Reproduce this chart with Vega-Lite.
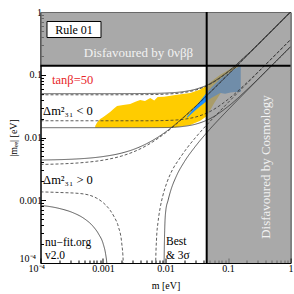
{
  "$schema": "https://vega.github.io/schema/vega-lite/v6.json",
  "width": 250,
  "height": 251,
  "autosize": "none",
  "padding": {"left": 40.5, "top": 12, "right": 3.5, "bottom": 31},
  "background": "#ffffff",
  "data": {"values": [{}]},
  "config": {
    "view": {"stroke": "#000", "strokeWidth": 1},
    "font": "Liberation Serif",
    "axis": {"labelFont": "Liberation Serif", "labelFontSize": 10, "labelColor": "#000", "titleFont": "Liberation Serif", "titleFontSize": 10, "titleFontWeight": "normal", "titleColor": "#000", "domainColor": "#000", "tickColor": "#000", "grid": false, "labelFlush": false, "labelOverlap": false}
  },
  "datasets": {
    "curves": [
      {"c": "IOub", "f": "best", "m": 0.0001, "mee": 0.0479}, {"c": "IOub", "f": "best", "m": 0.001, "mee": 0.0479}, {"c": "IOub", "f": "best", "m": 0.005, "mee": 0.04825}, {"c": "IOub", "f": "best", "m": 0.01, "mee": 0.0491}, {"c": "IOub", "f": "best", "m": 0.02, "mee": 0.05217}, {"c": "IOub", "f": "best", "m": 0.03, "mee": 0.05681}, {"c": "IOub", "f": "best", "m": 0.05, "mee": 0.06954}, {"c": "IOub", "f": "best", "m": 0.1, "mee": 0.11107}, {"c": "IOub", "f": "best", "m": 0.2, "mee": 0.20573}, {"c": "IOub", "f": "best", "m": 0.5, "mee": 0.5023}, {"c": "IOub", "f": "best", "m": 1, "mee": 1.0012},
      {"c": "IOu3", "f": "3s", "m": 0.0001, "mee": 0.04997}, {"c": "IOu3", "f": "3s", "m": 0.001, "mee": 0.04998}, {"c": "IOu3", "f": "3s", "m": 0.005, "mee": 0.0503}, {"c": "IOu3", "f": "3s", "m": 0.01, "mee": 0.05112}, {"c": "IOu3", "f": "3s", "m": 0.02, "mee": 0.05408}, {"c": "IOu3", "f": "3s", "m": 0.03, "mee": 0.05858}, {"c": "IOu3", "f": "3s", "m": 0.05, "mee": 0.07098}, {"c": "IOu3", "f": "3s", "m": 0.1, "mee": 0.112}, {"c": "IOu3", "f": "3s", "m": 0.2, "mee": 0.20627}, {"c": "IOu3", "f": "3s", "m": 0.5, "mee": 0.5025}, {"c": "IOu3", "f": "3s", "m": 1, "mee": 1.001},
      {"c": "IOlb", "f": "best", "m": 0.0001, "mee": 0.01849}, {"c": "IOlb", "f": "best", "m": 0.001, "mee": 0.01847}, {"c": "IOlb", "f": "best", "m": 0.005, "mee": 0.01847}, {"c": "IOlb", "f": "best", "m": 0.01, "mee": 0.01866}, {"c": "IOlb", "f": "best", "m": 0.02, "mee": 0.01957}, {"c": "IOlb", "f": "best", "m": 0.03, "mee": 0.02113}, {"c": "IOlb", "f": "best", "m": 0.05, "mee": 0.02556}, {"c": "IOlb", "f": "best", "m": 0.1, "mee": 0.04043}, {"c": "IOlb", "f": "best", "m": 0.2, "mee": 0.07463}, {"c": "IOlb", "f": "best", "m": 0.5, "mee": 0.182}, {"c": "IOlb", "f": "best", "m": 1, "mee": 0.362},
      {"c": "IOl3", "f": "3s", "m": 0.0001, "mee": 0.01434}, {"c": "IOl3", "f": "3s", "m": 0.001, "mee": 0.01434}, {"c": "IOl3", "f": "3s", "m": 0.005, "mee": 0.01436}, {"c": "IOl3", "f": "3s", "m": 0.01, "mee": 0.01441}, {"c": "IOl3", "f": "3s", "m": 0.02, "mee": 0.01508}, {"c": "IOl3", "f": "3s", "m": 0.03, "mee": 0.01626}, {"c": "IOl3", "f": "3s", "m": 0.05, "mee": 0.01965}, {"c": "IOl3", "f": "3s", "m": 0.1, "mee": 0.03114}, {"c": "IOl3", "f": "3s", "m": 0.2, "mee": 0.05755}, {"c": "IOl3", "f": "3s", "m": 0.5, "mee": 0.1404}, {"c": "IOl3", "f": "3s", "m": 1, "mee": 0.2794},
      {"c": "NOub", "f": "best", "m": 0.0001, "mee": 0.00372}, {"c": "NOub", "f": "best", "m": 0.0002, "mee": 0.00379}, {"c": "NOub", "f": "best", "m": 0.0005, "mee": 0.004}, {"c": "NOub", "f": "best", "m": 0.001, "mee": 0.00435}, {"c": "NOub", "f": "best", "m": 0.002, "mee": 0.00508}, {"c": "NOub", "f": "best", "m": 0.003, "mee": 0.00584}, {"c": "NOub", "f": "best", "m": 0.005, "mee": 0.00746}, {"c": "NOub", "f": "best", "m": 0.01, "mee": 0.01183}, {"c": "NOub", "f": "best", "m": 0.02, "mee": 0.02126}, {"c": "NOub", "f": "best", "m": 0.03, "mee": 0.03096}, {"c": "NOub", "f": "best", "m": 0.05, "mee": 0.0507}, {"c": "NOub", "f": "best", "m": 0.1, "mee": 0.1003}, {"c": "NOub", "f": "best", "m": 0.2, "mee": 0.2001}, {"c": "NOub", "f": "best", "m": 0.5, "mee": 0.5}, {"c": "NOub", "f": "best", "m": 1, "mee": 1},
      {"c": "NOu3", "f": "3s", "m": 0.0001, "mee": 0.00437}, {"c": "NOu3", "f": "3s", "m": 0.0005, "mee": 0.00463}, {"c": "NOu3", "f": "3s", "m": 0.001, "mee": 0.00497}, {"c": "NOu3", "f": "3s", "m": 0.002, "mee": 0.00566}, {"c": "NOu3", "f": "3s", "m": 0.003, "mee": 0.0064}, {"c": "NOu3", "f": "3s", "m": 0.005, "mee": 0.00798}, {"c": "NOu3", "f": "3s", "m": 0.01, "mee": 0.01222}, {"c": "NOu3", "f": "3s", "m": 0.02, "mee": 0.02155}, {"c": "NOu3", "f": "3s", "m": 0.03, "mee": 0.0312}, {"c": "NOu3", "f": "3s", "m": 0.05, "mee": 0.0508}, {"c": "NOu3", "f": "3s", "m": 0.1, "mee": 0.1005}, {"c": "NOu3", "f": "3s", "m": 0.2, "mee": 0.2003}, {"c": "NOu3", "f": "3s", "m": 0.5, "mee": 0.5001}, {"c": "NOu3", "f": "3s", "m": 1, "mee": 1.0001},
      {"c": "NOlbL", "f": "best", "m": 0.0001, "mee": 0.00136}, {"c": "NOlbL", "f": "best", "m": 0.0002, "mee": 0.00133}, {"c": "NOlbL", "f": "best", "m": 0.00043, "mee": 0.00128}, {"c": "NOlbL", "f": "best", "m": 0.00079, "mee": 0.00108}, {"c": "NOlbL", "f": "best", "m": 0.001, "mee": 0.00092}, {"c": "NOlbL", "f": "best", "m": 0.00129, "mee": 0.0007}, {"c": "NOlbL", "f": "best", "m": 0.0015, "mee": 0.00055}, {"c": "NOlbL", "f": "best", "m": 0.00176, "mee": 0.00038}, {"c": "NOlbL", "f": "best", "m": 0.00199, "mee": 0.00021}, {"c": "NOlbL", "f": "best", "m": 0.00211, "mee": 0.0001}, {"c": "NOlbL", "f": "best", "m": 0.00216, "mee": 0.00004}, {"c": "NOlbL", "f": "best", "m": 0.00218, "mee": 0.00001},
      {"c": "NOlbR", "f": "best", "m": 0.0069, "mee": 0.00001}, {"c": "NOlbR", "f": "best", "m": 0.00697, "mee": 0.0001}, {"c": "NOlbR", "f": "best", "m": 0.0072, "mee": 0.00025}, {"c": "NOlbR", "f": "best", "m": 0.0076, "mee": 0.00045}, {"c": "NOlbR", "f": "best", "m": 0.0082, "mee": 0.00075}, {"c": "NOlbR", "f": "best", "m": 0.009, "mee": 0.00115}, {"c": "NOlbR", "f": "best", "m": 0.0105, "mee": 0.0019}, {"c": "NOlbR", "f": "best", "m": 0.013, "mee": 0.0031}, {"c": "NOlbR", "f": "best", "m": 0.0165, "mee": 0.0045}, {"c": "NOlbR", "f": "best", "m": 0.0221, "mee": 0.0068}, {"c": "NOlbR", "f": "best", "m": 0.03, "mee": 0.0099}, {"c": "NOlbR", "f": "best", "m": 0.046, "mee": 0.016}, {"c": "NOlbR", "f": "best", "m": 0.07, "mee": 0.0248}, {"c": "NOlbR", "f": "best", "m": 0.1, "mee": 0.0359}, {"c": "NOlbR", "f": "best", "m": 0.2, "mee": 0.0723}, {"c": "NOlbR", "f": "best", "m": 0.5, "mee": 0.181}, {"c": "NOlbR", "f": "best", "m": 1, "mee": 0.362},
      {"c": "NOl3L", "f": "3s", "m": 0.0001, "mee": 0.00083}, {"c": "NOl3L", "f": "3s", "m": 0.0002, "mee": 0.00074}, {"c": "NOl3L", "f": "3s", "m": 0.000335, "mee": 0.00063}, {"c": "NOl3L", "f": "3s", "m": 0.0005, "mee": 0.00051}, {"c": "NOl3L", "f": "3s", "m": 0.0007, "mee": 0.00038}, {"c": "NOl3L", "f": "3s", "m": 0.00085, "mee": 0.00029}, {"c": "NOl3L", "f": "3s", "m": 0.00101, "mee": 0.0002}, {"c": "NOl3L", "f": "3s", "m": 0.0011, "mee": 0.00014}, {"c": "NOl3L", "f": "3s", "m": 0.00115, "mee": 0.0001}, {"c": "NOl3L", "f": "3s", "m": 0.0012, "mee": 0.00005}, {"c": "NOl3L", "f": "3s", "m": 0.00122, "mee": 0.00001},
      {"c": "NOl3R", "f": "3s", "m": 0.0093, "mee": 0.00001}, {"c": "NOl3R", "f": "3s", "m": 0.0095, "mee": 0.0001}, {"c": "NOl3R", "f": "3s", "m": 0.0097, "mee": 0.00033}, {"c": "NOl3R", "f": "3s", "m": 0.0101, "mee": 0.00068}, {"c": "NOl3R", "f": "3s", "m": 0.011, "mee": 0.001}, {"c": "NOl3R", "f": "3s", "m": 0.012, "mee": 0.00138}, {"c": "NOl3R", "f": "3s", "m": 0.015, "mee": 0.00245}, {"c": "NOl3R", "f": "3s", "m": 0.02, "mee": 0.0041}, {"c": "NOl3R", "f": "3s", "m": 0.03, "mee": 0.0072}, {"c": "NOl3R", "f": "3s", "m": 0.046, "mee": 0.012}, {"c": "NOl3R", "f": "3s", "m": 0.07, "mee": 0.019}, {"c": "NOl3R", "f": "3s", "m": 0.1, "mee": 0.0275}, {"c": "NOl3R", "f": "3s", "m": 0.2, "mee": 0.0557}, {"c": "NOl3R", "f": "3s", "m": 0.5, "mee": 0.14}, {"c": "NOl3R", "f": "3s", "m": 1, "mee": 0.279}
    ],
    "yellow": [
      {"m": 0.00075, "lo": 0.0144, "hi": 0.0152}, {"m": 0.0008, "lo": 0.0144, "hi": 0.0172}, {"m": 0.0009, "lo": 0.0144, "hi": 0.0197}, {"m": 0.001, "lo": 0.0144, "hi": 0.021}, {"m": 0.00112, "lo": 0.0144, "hi": 0.0228}, {"m": 0.0013, "lo": 0.0144, "hi": 0.0254}, {"m": 0.0015, "lo": 0.0144, "hi": 0.029}, {"m": 0.00168, "lo": 0.0144, "hi": 0.0317}, {"m": 0.0021, "lo": 0.0144, "hi": 0.033}, {"m": 0.00272, "lo": 0.0144, "hi": 0.0341}, {"m": 0.0033, "lo": 0.0144, "hi": 0.037}, {"m": 0.00393, "lo": 0.0144, "hi": 0.0395}, {"m": 0.0047, "lo": 0.0144, "hi": 0.038}, {"m": 0.0057, "lo": 0.0144, "hi": 0.0425}, {"m": 0.0066, "lo": 0.0144, "hi": 0.039}, {"m": 0.0075, "lo": 0.0144, "hi": 0.044}, {"m": 0.0095, "lo": 0.0144, "hi": 0.0445}, {"m": 0.0143, "lo": 0.0145, "hi": 0.0475}, {"m": 0.0249, "lo": 0.0158, "hi": 0.051}, {"m": 0.036, "lo": 0.0185, "hi": 0.058}, {"m": 0.046, "lo": 0.022, "hi": 0.068}, {"m": 0.06, "lo": 0.035, "hi": 0.085}, {"m": 0.0753, "lo": 0.05, "hi": 0.1}, {"m": 0.1, "lo": 0.07, "hi": 0.118}, {"m": 0.125, "lo": 0.1, "hi": 0.133}, {"m": 0.146, "lo": 0.13, "hi": 0.141}
    ],
    "blue": [
      {"m": 0.022, "lo": 0.0205, "hi": 0.0215}, {"m": 0.028, "lo": 0.0255, "hi": 0.0285}, {"m": 0.035, "lo": 0.031, "hi": 0.037}, {"m": 0.046, "lo": 0.038, "hi": 0.052}, {"m": 0.055, "lo": 0.043, "hi": 0.064}, {"m": 0.0753, "lo": 0.051, "hi": 0.086}, {"m": 0.09, "lo": 0.05, "hi": 0.098}, {"m": 0.11, "lo": 0.052, "hi": 0.112}, {"m": 0.13, "lo": 0.053, "hi": 0.126}, {"m": 0.16, "lo": 0.053, "hi": 0.139}
    ]
  },
  "layer": [
    {
      "data": {"name": "yellow"},
      "mark": {"type": "area", "color": "#FFCC00", "clip": true},
      "encoding": {
        "x": {"field": "m", "type": "quantitative", "scale": {"type": "log", "domain": [0.0001, 1]},
          "axis": {"title": "m [eV]", "values": [0.0001,0.0002,0.0003,0.0004,0.0005,0.0006,0.0007,0.0008,0.0009,0.001,0.002,0.003,0.004,0.005,0.006,0.007,0.008,0.009,0.01,0.02,0.03,0.04,0.05,0.06,0.07,0.08,0.09,0.1,0.2,0.3,0.4,0.5,0.6,0.7,0.8,0.9,1],
            "labelExpr": "abs(log(datum.value)/LN10 - round(log(datum.value)/LN10)) > 0.001 ? '' : datum.value < 0.0005 ? '10⁻⁴' : datum.value < 0.005 ? '0.001' : datum.value < 0.05 ? '0.01' : datum.value < 0.5 ? '0.1' : '1'",
            "tickSize": {"condition": {"test": "abs(log(datum.value)/LN10 - round(log(datum.value)/LN10)) < 0.001", "value": -5}, "value": -3},
            "labelAlign": {"condition": {"test": "datum.value < 0.0002", "value": "right"}, "value": "center"},
            "labelOffset": {"condition": {"test": "datum.value < 0.0002", "value": 4}, "value": 0},
            "labelPadding": 5, "titlePadding": 5}},
        "y": {"field": "lo", "type": "quantitative", "scale": {"type": "log", "domain": [0.0001, 1]},
          "axis": {"title": "|mₑₑ| [eV]", "values": [0.0001,0.0002,0.0003,0.0004,0.0005,0.0006,0.0007,0.0008,0.0009,0.001,0.002,0.003,0.004,0.005,0.006,0.007,0.008,0.009,0.01,0.02,0.03,0.04,0.05,0.06,0.07,0.08,0.09,0.1,0.2,0.3,0.4,0.5,0.6,0.7,0.8,0.9,1],
            "labelExpr": "abs(log(datum.value)/LN10 - round(log(datum.value)/LN10)) > 0.001 ? '' : datum.value < 0.0005 ? '10⁻⁴' : datum.value < 0.005 ? '0.001' : datum.value < 0.05 ? '0.01' : datum.value < 0.5 ? '0.1' : '1'",
            "tickSize": {"condition": {"test": "abs(log(datum.value)/LN10 - round(log(datum.value)/LN10)) < 0.001", "value": -5}, "value": -3},
            "labelBaseline": {"condition": {"test": "datum.value < 0.0002", "value": "bottom"}, "value": "middle"},
            "labelPadding": {"condition": {"test": "datum.value < 0.0002", "value": 10}, "value": 4},
            "titleX": -27, "titleY": 125.5, "titleAlign": "center", "titleBaseline": "middle"}},
        "y2": {"field": "hi"}
      }
    },
    {
      "data": {"name": "blue"},
      "mark": {"type": "area", "color": "#1E90FF", "clip": true},
      "encoding": {
        "x": {"field": "m", "type": "quantitative"},
        "y": {"field": "lo", "type": "quantitative"},
        "y2": {"field": "hi"}
      }
    },
    {
      "mark": {"type": "rect", "color": "#8c8c8c", "opacity": 0.75},
      "encoding": {
        "x": {"datum": 0.0001, "type": "quantitative"}, "x2": {"datum": 0.0456},
        "y": {"datum": 0.1394, "type": "quantitative"}, "y2": {"datum": 1}
      }
    },
    {
      "mark": {"type": "rect", "color": "#8c8c8c", "opacity": 0.75},
      "encoding": {
        "x": {"datum": 0.0456, "type": "quantitative"}, "x2": {"datum": 1},
        "y": {"datum": 0.0001, "type": "quantitative"}, "y2": {"datum": 1}
      }
    },
    {
      "data": {"name": "curves"},
      "mark": {"type": "line", "clip": true, "strokeWidth": 0.8, "color": "#333", "interpolate": "monotone"},
      "encoding": {
        "x": {"field": "m", "type": "quantitative"},
        "y": {"field": "mee", "type": "quantitative"},
        "detail": {"field": "c"},
        "strokeDash": {"field": "f", "type": "nominal", "scale": {"domain": ["best", "3s"], "range": [[3, 2], [1, 0]]}, "legend": null}
      }
    },
    {
      "mark": {"type": "rule", "color": "#000", "strokeWidth": 2},
      "encoding": {"x": {"datum": 0.0456, "type": "quantitative"}}
    },
    {
      "mark": {"type": "rule", "color": "#000", "strokeWidth": 2},
      "encoding": {"y": {"datum": 0.1394, "type": "quantitative"}}
    },
    {
      "mark": {"type": "rect", "fill": "#fff", "stroke": "#000", "strokeWidth": 1},
      "encoding": {
        "x": {"datum": 0.000127, "type": "quantitative"}, "x2": {"datum": 0.000929},
        "y": {"datum": 0.392, "type": "quantitative"}, "y2": {"datum": 0.706}
      }
    },
    {
      "mark": {"type": "text", "font": "Liberation Serif", "fontSize": 12, "color": "#000", "align": "center", "baseline": "middle"},
      "encoding": {"x": {"datum": 0.000344, "type": "quantitative"}, "y": {"datum": 0.526, "type": "quantitative"}, "text": {"value": "Rule 01"}}
    },
    {
      "mark": {"type": "text", "font": "Liberation Serif", "fontSize": 13, "color": "#f2f2f2", "align": "center", "baseline": "middle"},
      "encoding": {"x": {"datum": 0.0037, "type": "quantitative"}, "y": {"datum": 0.222, "type": "quantitative"}, "text": {"value": "Disfavoured by 0νββ"}}
    },
    {
      "mark": {"type": "text", "font": "Liberation Serif", "fontSize": 13, "color": "#f2f2f2", "align": "center", "baseline": "middle", "angle": 270},
      "encoding": {"x": {"datum": 0.405, "type": "quantitative"}, "y": {"datum": 0.00339, "type": "quantitative"}, "text": {"value": "Disfavoured by Cosmology"}}
    },
    {
      "mark": {"type": "text", "font": "Liberation Serif", "fontSize": 12.5, "color": "#e8262b", "align": "left", "baseline": "middle"},
      "encoding": {"x": {"datum": 0.000153, "type": "quantitative"}, "y": {"datum": 0.0825, "type": "quantitative"}, "text": {"value": "tanβ=50"}}
    },
    {
      "mark": {"type": "text", "font": "Liberation Serif", "fontSize": 12.5, "color": "#000", "align": "left", "baseline": "middle"},
      "encoding": {"x": {"datum": 0.00011, "type": "quantitative"}, "y": {"datum": 0.0264, "type": "quantitative"}, "text": {"value": "Δm²₃₁ < 0"}}
    },
    {
      "mark": {"type": "text", "font": "Liberation Serif", "fontSize": 12.5, "color": "#000", "align": "left", "baseline": "middle"},
      "encoding": {"x": {"datum": 0.00011, "type": "quantitative"}, "y": {"datum": 0.0021, "type": "quantitative"}, "text": {"value": "Δm²₃₁ > 0"}}
    },
    {
      "mark": {"type": "text", "font": "Liberation Serif", "fontSize": 11.5, "color": "#000", "align": "left", "baseline": "middle"},
      "encoding": {"x": {"datum": 0.000118, "type": "quantitative"}, "y": {"datum": 0.000212, "type": "quantitative"}, "text": {"value": "nu−fit.org"}}
    },
    {
      "mark": {"type": "text", "font": "Liberation Serif", "fontSize": 11.5, "color": "#000", "align": "left", "baseline": "middle"},
      "encoding": {"x": {"datum": 0.000118, "type": "quantitative"}, "y": {"datum": 0.000128, "type": "quantitative"}, "text": {"value": "v2.0"}}
    },
    {
      "mark": {"type": "text", "font": "Liberation Serif", "fontSize": 11.5, "color": "#000", "align": "left", "baseline": "middle"},
      "encoding": {"x": {"datum": 0.0102, "type": "quantitative"}, "y": {"datum": 0.000215, "type": "quantitative"}, "text": {"value": "Best"}}
    },
    {
      "mark": {"type": "text", "font": "Liberation Serif", "fontSize": 11.5, "color": "#000", "align": "left", "baseline": "middle"},
      "encoding": {"x": {"datum": 0.0102, "type": "quantitative"}, "y": {"datum": 0.00013, "type": "quantitative"}, "text": {"value": "& 3σ"}}
    }
  ]
}
